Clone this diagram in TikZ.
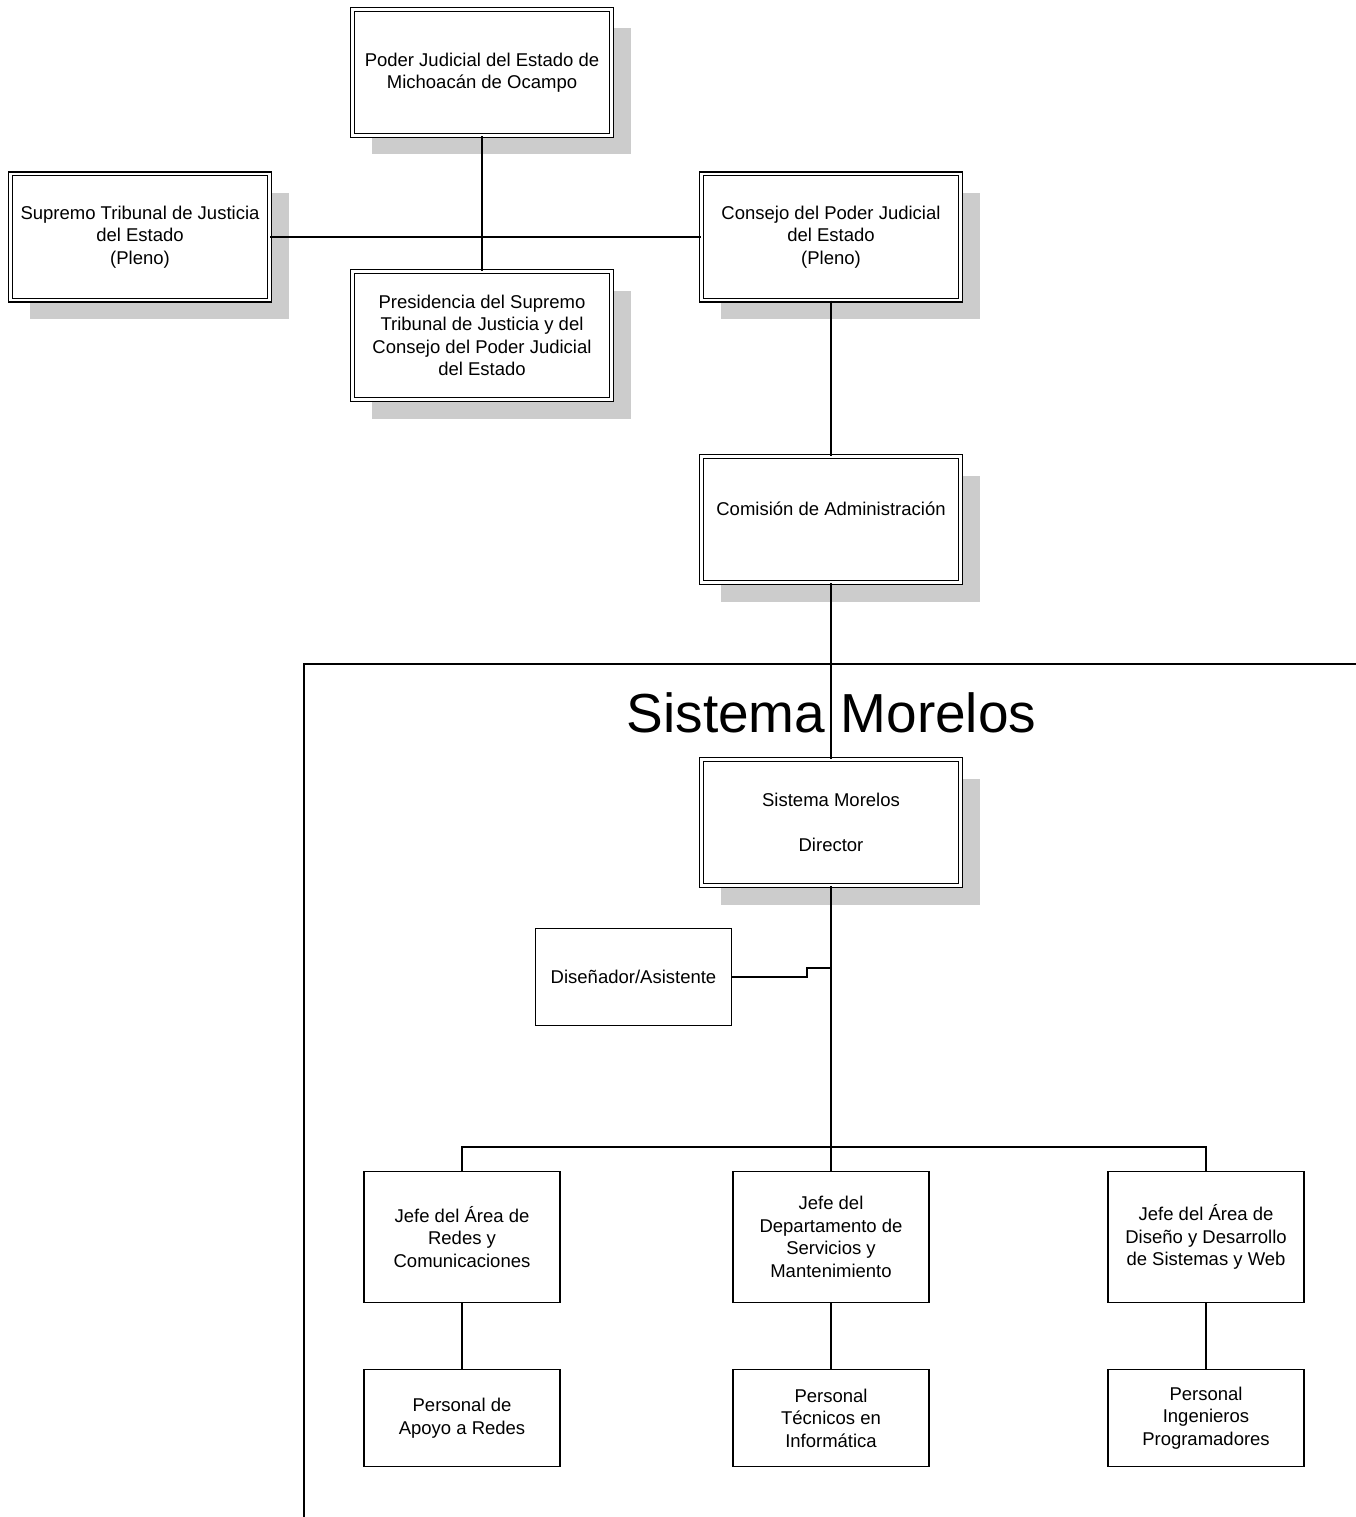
\documentclass[tikz,border=0pt]{standalone}
\usepackage{fontspec}
\setmainfont{Liberation Sans}
\usetikzlibrary{shadows}
\definecolor{shadowgray}{RGB}{204,204,204}
\begin{document}
\begin{tikzpicture}[x=1pt,y=-1pt,
  lbl/.style={font=\fontsize{18.5}{22.5}\selectfont, align=center, text=black},
  dbox/.style={lbl, draw, line width=1.1pt, double, double distance=2.8pt, fill=white,
    minimum width=259pt, minimum height=126pt, inner sep=0pt,
    drop shadow={shadow xshift=19pt, shadow yshift=-19pt, fill=shadowgray, opacity=1}},
  sbox/.style={lbl, draw, line width=1.3pt, fill=white, minimum width=196pt, inner sep=0pt},
  conn/.style={line width=1.3pt}]
\useasboundingbox (0,0) rectangle (1356,1517);

% top level
\node[dbox] (poder) at (482,72.5) {Poder Judicial del Estado de\\Michoac\'an de Ocampo};
\node[dbox] (sup) at (140,237) {Supremo Tribunal de Justicia\\del Estado\\(Pleno)};
\node[dbox] (cons) at (831,237) {Consejo del Poder Judicial\\del Estado\\(Pleno)};
\node[dbox, minimum height=128pt] (pres) at (482,335.5) {Presidencia del Supremo\\Tribunal de Justicia y del\\Consejo del Poder Judicial\\del Estado};
\node[dbox] (com) at (831,519.5) {Comisi\'on de Administraci\'on\\\mbox{}};

% frame and title
\coordinate (fc) at (304,664);
\coordinate (fr) at (1356,664);
\coordinate (fb) at (304,1517);
\draw[line width=1.3pt] (fr) -- (fc) -- (fb);
\node[font=\fontsize{55}{60}\selectfont, anchor=base] (title) at (831.5,732) {Sistema Morelos};

\node[dbox] (dir) at (831,822.5) {Sistema Morelos\\\mbox{}\\Director};
\node[sbox, minimum height=97pt] (dis) at (633.5,977) {Dise\~nador/Asistente};

% third level
\node[sbox, minimum height=131pt] (j1) at (462,1237) {Jefe del \'Area de\\Redes y\\Comunicaciones};
\node[sbox, minimum height=131pt] (j2) at (831,1237) {Jefe del\\Departamento de\\Servicios y\\Mantenimiento};
\node[sbox, minimum height=131pt] (j3) at (1206,1237) {Jefe del \'Area de\\Dise\~no y Desarrollo\\de Sistemas y Web};

\node[sbox, minimum height=97pt] (p1) at (462,1418) {Personal de\\Apoyo a Redes};
\node[sbox, minimum height=97pt] (p2) at (831,1418) {Personal\\T\'ecnicos en\\Inform\'atica};
\node[sbox, minimum height=97pt] (p3) at (1206,1418) {Personal\\Ingenieros\\Programadores};

% connectors
\draw[conn] (poder.south) -- (pres.north);
\draw[conn] (sup.east) -- (cons.west);
\draw[conn] (cons.south) -- (com.north);
\draw[conn] (com.south) -- (dir.north);
\coordinate (dj) at (831,968);
\draw[conn] (dis.east) -- (807,977) -- (807,968) -- (dj);
\coordinate (bus) at (831,1147);
\draw[conn] (dir.south) -- (bus);
\draw[conn] (j1.north) |- (bus) -| (j3.north);
\draw[conn] (bus) -- (j2.north);
\draw[conn] (j1.south) -- (p1.north);
\draw[conn] (j2.south) -- (p2.north);
\draw[conn] (j3.south) -- (p3.north);
\end{tikzpicture}
\end{document}
